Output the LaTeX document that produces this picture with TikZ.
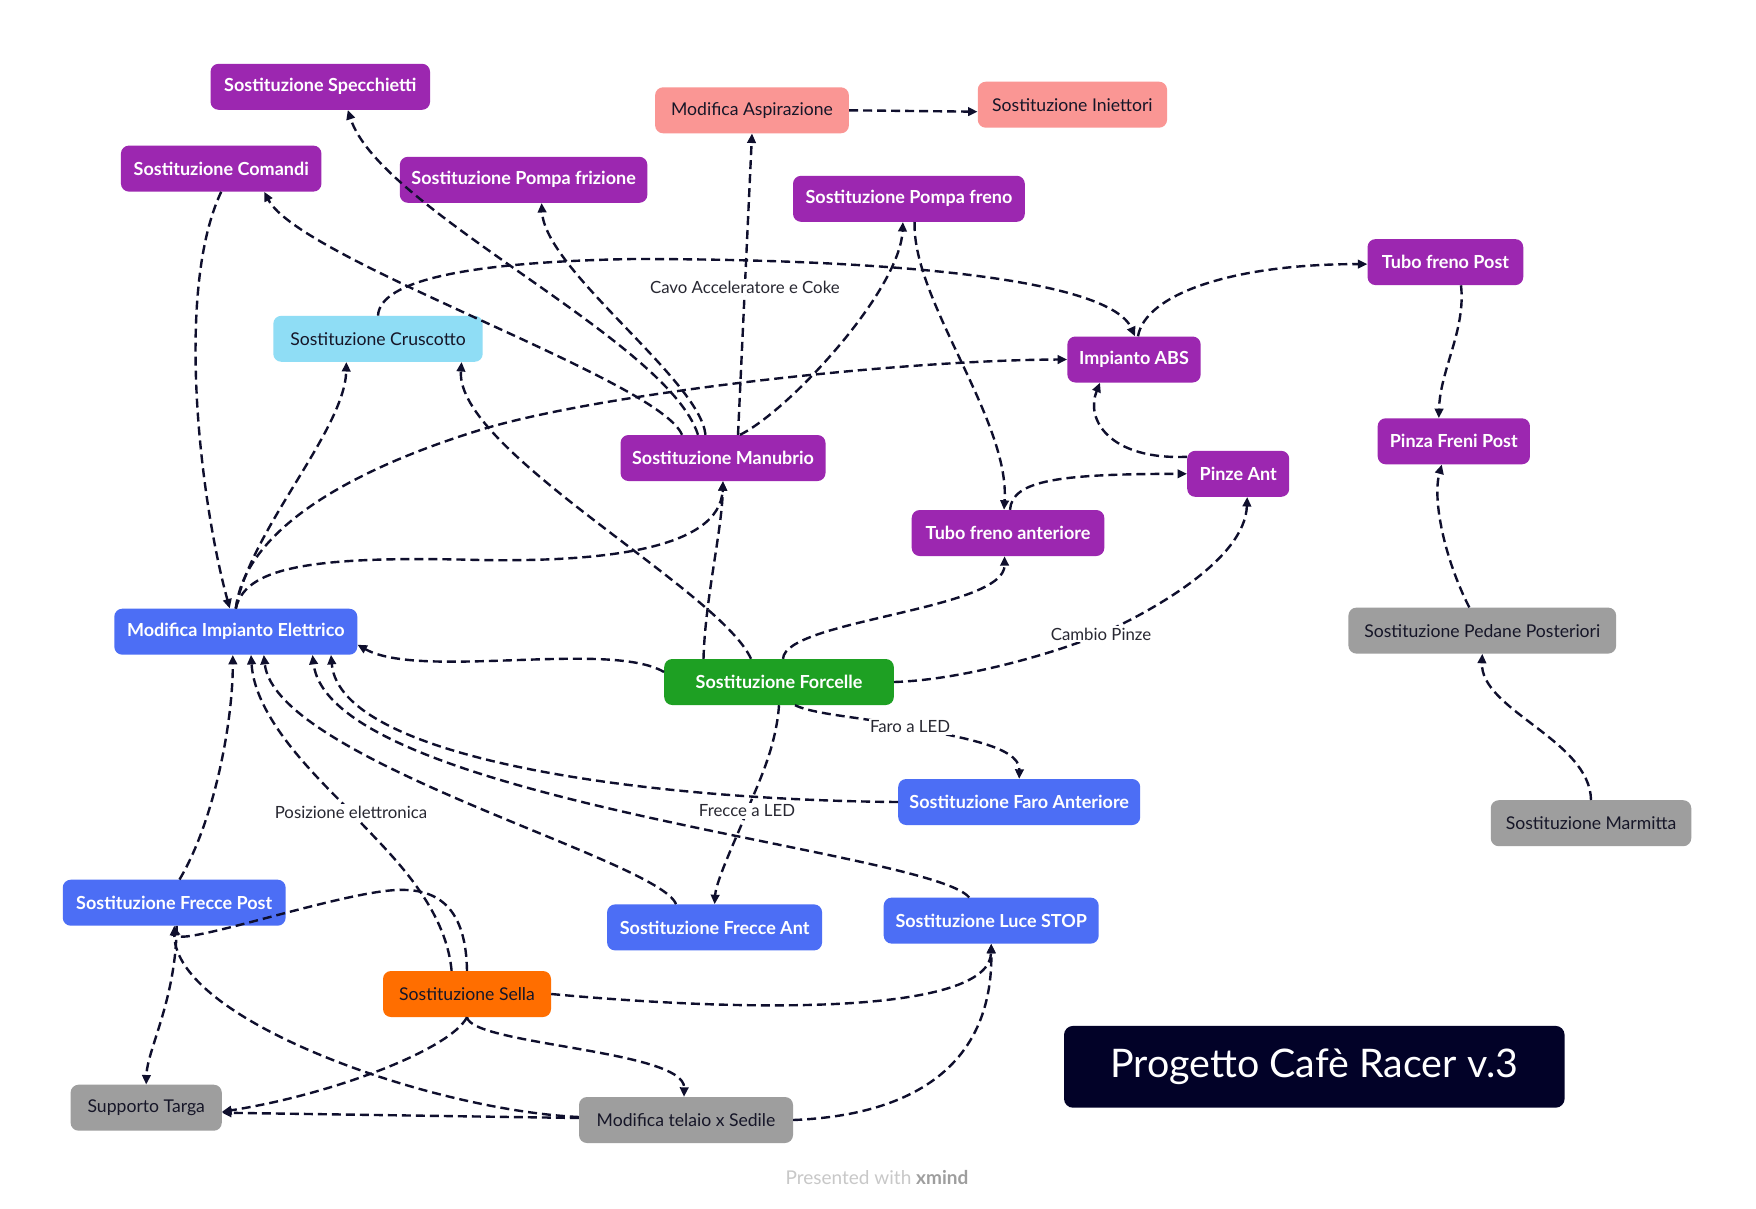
\documentclass[tikz,border=0pt]{standalone}
\usepackage{fontspec}
\setmainfont{Lato}
\usetikzlibrary{arrows.meta}
\definecolor{cpurple}{RGB}{156,39,176}
\definecolor{cblue}{RGB}{76,110,245}
\definecolor{ccyan}{RGB}{143,221,245}
\definecolor{csalmon}{RGB}{250,150,148}
\definecolor{cgreen}{RGB}{30,160,35}
\definecolor{corange}{RGB}{255,110,0}
\definecolor{cgrey}{RGB}{158,158,158}
\definecolor{ctitle}{RGB}{2,2,40}
\definecolor{cedge}{RGB}{15,15,45}
\definecolor{cdark}{RGB}{22,22,40}
\definecolor{clabel}{RGB}{40,40,50}
\definecolor{cfoot}{RGB}{200,200,200}
\begin{document}
\begin{tikzpicture}[x=1pt,y=-1pt,
  box/.style={rounded corners=8pt, minimum height=46pt, inner xsep=4pt, inner ysep=0pt},
  light/.style={box, text=white, font=\bfseries\fontsize{18}{20}\selectfont},
  darkt/.style={box, text=cdark, font=\fontsize{17.6}{20}\selectfont},
  purp/.style={light, fill=cpurple},
  blu/.style={light, fill=cblue},
  grn/.style={light, fill=cgreen},
  salm/.style={darkt, fill=csalmon},
  cyn/.style={darkt, fill=ccyan},
  orng/.style={darkt, fill=corange},
  gry/.style={darkt, fill=cgrey},
  edge/.style={draw=cedge, line width=2.4pt, dash pattern=on 9pt off 5pt, -{Triangle[length=9.5pt,width=8.5pt]}},
  lbl/.style={fill=white, text=clabel, font=\fontsize{16.8}{18}\selectfont, inner sep=1.5pt}
]
\useasboundingbox[fill=white] (0,0) rectangle (1756,1208);

% nodes
\node[purp, minimum width=219.5pt] (spec) at (320.3,86.8) {Sostituzione Specchietti};
\node[purp, minimum width=200.5pt] (com) at (221.2,168.6) {Sostituzione Comandi};
\node[purp, minimum width=247.5pt] (friz) at (523.6,179.8) {Sostituzione Pompa frizione};
\node[salm, minimum width=193.8pt] (asp) at (752,110.3) {Modifica Aspirazione};
\node[salm, minimum width=189.3pt] (inie) at (1072.4,104.7) {Sostituzione Iniettori};
\node[purp, minimum width=231.8pt] (pfreno) at (908.9,198.8) {Sostituzione Pompa freno};
\node[purp, minimum width=155.7pt] (tfp) at (1445.4,262.1) {Tubo freno Post};
\node[purp, minimum width=133.3pt] (abs) at (1134,359.5) {Impianto ABS};
\node[cyn, minimum width=209.4pt] (crus) at (378,338.8) {Sostituzione Cruscotto};
\node[purp, minimum width=205pt] (man) at (723,458) {Sostituzione Manubrio};
\node[purp, minimum width=152.3pt] (pfp) at (1453.8,441.3) {Pinza Freni Post};
\node[purp, minimum width=102pt] (pant) at (1238.2,473.8) {Pinze Ant};
\node[purp, minimum width=192.6pt] (tfa) at (1008,533) {Tubo freno anteriore};
\node[blu, minimum width=243pt] (elet) at (235.8,631.7) {Modifica Impianto Elettrico};
\node[grn, minimum width=229.6pt] (forc) at (779,682) {Sostituzione Forcelle};
\node[gry, minimum width=267.7pt] (ped) at (1482.3,630.6) {Sostituzione Pedane Posteriori};
\node[blu, minimum width=242pt] (faro) at (1019.2,802) {Sostituzione Faro Anteriore};
\node[gry, minimum width=200.5pt] (marm) at (1591,823.2) {Sostituzione Marmitta};
\node[blu, minimum width=222.9pt] (fpost) at (174.2,902.7) {Sostituzione Frecce Post};
\node[blu, minimum width=215pt] (fant) at (714.6,927.4) {Sostituzione Frecce Ant};
\node[blu, minimum width=215pt] (luce) at (991.2,920.6) {Sostituzione Luce STOP};
\node[orng, minimum width=168pt] (sella) at (467,994) {Sostituzione Sella};
\node[gry, minimum width=151.2pt] (targa) at (146.2,1107.7) {Supporto Targa};
\node[gry, minimum width=214pt] (telaio) at (686,1120) {Modifica telaio x Sedile};
\node[rounded corners=9pt, fill=ctitle, text=white, minimum width=500.6pt, minimum height=81.8pt, font=\fontsize{39.4}{44}\selectfont] (title) at (1314.3,1066.8) {Progetto Cafè Racer v.3};
\node[text=cfoot, font=\fontsize{19}{22}\selectfont] (foot) at (877,1177) {Presented with \textcolor{cgrey}{\bfseries xmind}};

% edges
\draw[edge] (asp.east) -- ([yshift=-7pt]inie.west);
\draw[edge] ([xshift=15pt]man.north) -- node[lbl,pos=0.49] (lcavo) {Cavo Acceleratore e Coke} (asp.south);
\draw[edge] ([xshift=-25pt]man.north) .. controls (668,340) and (380,210) .. ([xshift=27.5pt]spec.south);
\draw[edge] ([xshift=-17.5pt]man.north) .. controls (700,380) and (545,270) .. ([xshift=18pt]friz.south);
\draw[edge] ([xshift=-41pt]man.north) .. controls (660,380) and (300,260) .. ([xshift=43pt]com.south);
\draw[edge] ([xshift=17pt]man.north) .. controls (790,410) and (900,290) .. ([xshift=-6pt]pfreno.south);
\draw[edge] (crus.north) .. controls (380,280) and (470,262) .. (633,259) .. controls (900,259) and (1110,280) .. ([xshift=1pt]abs.north);
\draw[edge] ([xshift=4pt]abs.north) .. controls (1145,295) and (1230,264) .. ([yshift=-2pt]tfp.west);
\draw[edge] ([xshift=15.6pt]tfp.south) .. controls (1466,330) and (1440,370) .. ([xshift=-15pt]pfp.north);
\draw[edge] ([xshift=-13pt]ped.north) .. controls (1445,560) and (1432,500) .. ([xshift=-12pt]pfp.south);
\draw[edge] (marm.north) .. controls (1590,740) and (1480,710) .. (ped.south);
\draw[edge] ([yshift=17pt]pant.west) .. controls (1110,460) and (1085,420) .. ([xshift=-34pt]abs.south);
\draw[edge] ([xshift=2pt]tfa.north) .. controls (1012,480) and (1060,474) .. (pant.west);
\draw[edge] ([xshift=5.7pt]pfreno.south) .. controls (912,300) and (1010,420) .. ([xshift=-4pt]tfa.north);
\draw[edge] (elet.north) .. controls (245,530) and (350,470) .. (480,430) .. controls (600,393) and (900,360) .. (abs.west);
\draw[edge] (elet.north) .. controls (250,530) and (345,430) .. ([xshift=-31.6pt]crus.south);
\draw[edge] (elet.north) .. controls (245,570) and (300,555) .. (480,560) .. controls (600,562) and (720,550) .. (man.south);
\draw[edge] (com.south) .. controls (175,290) and (200,500) .. ([xshift=-6pt]elet.north);
\draw[edge] ([xshift=-28pt]forc.north) .. controls (720,590) and (455,450) .. ([xshift=83.6pt]crus.south);
\draw[edge] ([xshift=-75.5pt]forc.north) .. controls (705,600) and (722,530) .. (man.south);
\draw[edge] ([yshift=10pt]forc.west) .. controls (610,640) and (420,680) .. ([yshift=-13pt]elet.east);
\draw[edge] ([xshift=4pt]forc.north) .. controls (785,620) and (1005,610) .. ([xshift=-3.5pt]tfa.south);
\draw[edge] (forc.east) .. controls (960,680) and (1050,655) .. (1101,634) node[lbl] (lcambio) {Cambio Pinze} .. controls (1150,612) and (1245,560) .. ([xshift=9pt]pant.south);
\draw[edge] ([xshift=16pt]forc.south) .. controls (815,715) and (870,718) .. (910,727) node[lbl] (lfaro) {Faro a LED} .. controls (950,736) and (1020,745) .. (faro.north);
\draw[edge] (faro.west) .. controls (650,800) and (340,760) .. ([xshift=95.2pt]elet.south);
\draw[edge] (forc.south) .. controls (776,750) and (755,790) .. (747,811) node[lbl] (lfrecce) {Frecce a LED} .. controls (740,830) and (716,880) .. (fant.north);
\draw[edge] ([xshift=-22pt]luce.north) .. controls (930,850) and (330,800) .. ([xshift=76.7pt]elet.south);
\draw[edge] ([xshift=-38.6pt]fant.north) .. controls (660,860) and (275,760) .. ([xshift=28pt]elet.south);
\draw[edge] ([xshift=-15.4pt]sella.north) .. controls (445,900) and (380,845) .. (351,812) node[lbl] (lpos) {Posizione elettronica} .. controls (320,780) and (255,720) .. ([xshift=15.2pt]elet.south);
\draw[edge] ([xshift=5.3pt]fpost.north) .. controls (215,820) and (233,720) .. ([xshift=-3pt]elet.south);
\draw[edge] (sella.north) .. controls (466,910) and (440,888) .. (397,890) .. controls (340,892) and (178,948) .. (fpost.south);
\draw[edge] ([xshift=2.5pt]fpost.south) .. controls (176,1000) and (147,1050) .. (targa.north);
\draw[edge] ([yshift=3pt]telaio.west) .. controls (430,1110) and (175,1020) .. (fpost.south);
\draw[edge] ([yshift=2pt]telaio.west) -- ([yshift=-5pt]targa.east);
\draw[edge] (sella.south) .. controls (450,1050) and (330,1095) .. ([yshift=-4pt]targa.east);
\draw[edge] (sella.south) .. controls (472,1045) and (685,1050) .. ([xshift=-2pt]telaio.north);
\draw[edge] (sella.east) .. controls (780,1015) and (990,1010) .. (luce.south);
\draw[edge] (telaio.east) .. controls (920,1115) and (993,1060) .. (luce.south);
\end{tikzpicture}
\end{document}
